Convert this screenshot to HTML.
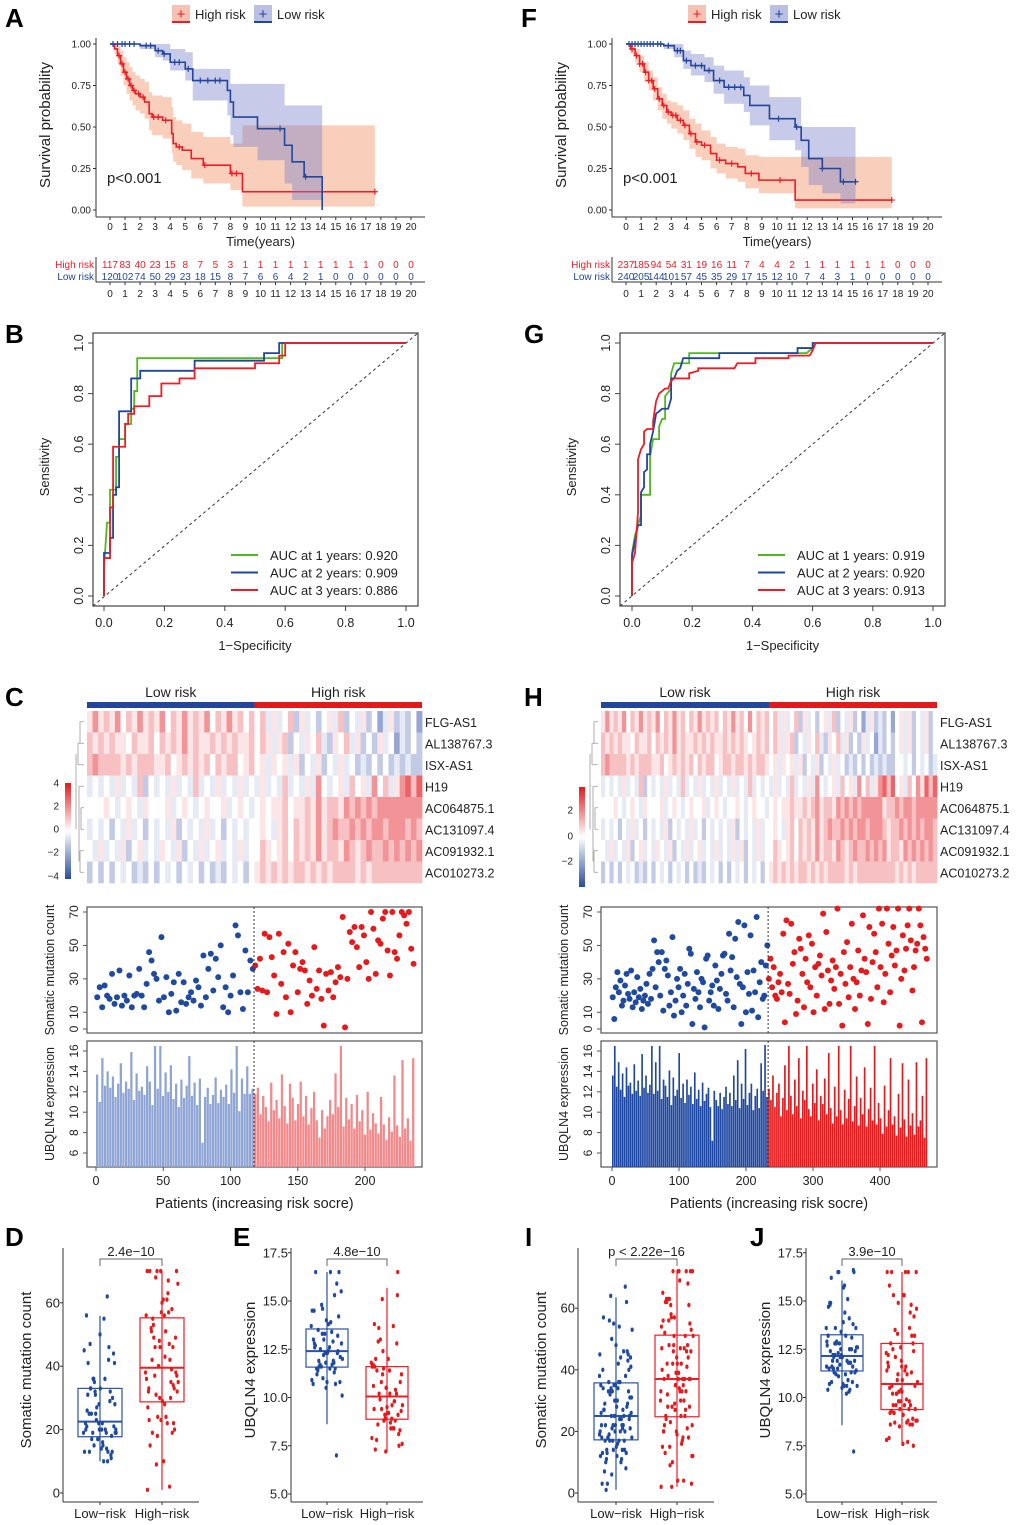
<!DOCTYPE html>
<html><head><meta charset="utf-8"><style>
html,body{margin:0;padding:0;background:#fff;}
svg{display:block;font-family:"Liberation Sans",Arial,sans-serif;}
</style></head><body>
<svg id="fig" width="1020" height="1525" viewBox="0 0 1020 1525" xmlns="http://www.w3.org/2000/svg"></svg>
<script>
// ---------- DATA ----------
const kmYears=[0,1,2,3,4,5,6,7,8,9,10,11,12,13,14,15,16,17,18,19,20];
const kmTicks=["1.00","0.75","0.50","0.25","0.00"];
// Panel A
const aHighT=[0,0.3,0.5,0.7,0.9,1.1,1.3,1.5,1.7,2.0,2.3,2.6,2.8,3.5,4.1,4.2,4.4,4.8,5.4,6.2,8.0,8.8];
const aHighS=[1,0.97,0.93,0.88,0.83,0.79,0.75,0.72,0.70,0.68,0.65,0.58,0.56,0.54,0.46,0.40,0.38,0.36,0.31,0.27,0.22,0.11];
const aHighHi=[1,1,0.99,0.96,0.92,0.89,0.86,0.83,0.81,0.79,0.77,0.71,0.69,0.68,0.62,0.56,0.54,0.52,0.47,0.44,0.40,0.51];
const aHighLo=[1,0.94,0.88,0.81,0.75,0.70,0.66,0.63,0.60,0.58,0.55,0.48,0.45,0.43,0.34,0.29,0.27,0.24,0.19,0.16,0.12,0.02];
const aHighEnd=17.6;
const aHighCens=[0.6,0.8,1.0,1.2,1.4,1.6,1.9,2.2,2.9,3.2,3.7,4.6,6.3,8.1,8.4,17.6];
const aLowT=[0,2.0,3.0,3.5,4.0,5.0,5.5,7.8,8.0,8.2,9.8,11.6,12.1,12.9,14.1];
const aLowS=[1,0.99,0.96,0.94,0.89,0.85,0.78,0.72,0.65,0.56,0.49,0.39,0.29,0.20,0];
const aLowHi=[1,1,1,1,0.97,0.95,0.85,0.85,0.76,0.76,0.76,0.63,0.63,0.63,0.63];
const aLowLo=[1,0.97,0.92,0.90,0.84,0.78,0.66,0.57,0.45,0.38,0.30,0.16,0.06,0.06,0];
const aLowEnd=14.1;
const aLowCens=[0.2,0.5,0.8,1.0,1.3,1.6,2.4,2.7,3.2,3.6,4.3,4.6,5.2,6.0,6.5,7.0,7.3,11.3,13.0];
const aRiskHigh=[117,83,40,23,15,8,7,5,3,1,1,1,1,1,1,1,1,1,0,0,0];
const aRiskLow=[120,102,74,50,29,23,18,15,8,7,6,6,4,2,1,0,0,0,0,0,0];
// Panel F
const fHighT=[0,0.3,0.6,0.9,1.2,1.5,1.8,2.1,2.4,2.7,3.0,3.4,3.8,4.2,4.6,5.0,5.6,6.0,6.6,7.4,7.9,8.8,11.2];
const fHighS=[1,0.97,0.93,0.88,0.83,0.78,0.73,0.67,0.63,0.59,0.57,0.54,0.51,0.46,0.41,0.39,0.34,0.30,0.28,0.26,0.22,0.18,0.06];
const fHighHi=[1,1,0.97,0.93,0.89,0.84,0.80,0.74,0.70,0.66,0.65,0.63,0.60,0.55,0.52,0.48,0.44,0.40,0.38,0.37,0.33,0.32,0.32];
const fHighLo=[1,0.94,0.89,0.83,0.77,0.72,0.66,0.60,0.55,0.52,0.49,0.46,0.42,0.37,0.32,0.30,0.25,0.22,0.19,0.17,0.13,0.10,0.01];
const fHighEnd=17.6;
const fHighCens=[0.4,0.7,0.9,1.1,1.3,1.5,1.7,1.9,2.2,2.5,2.8,3.1,3.3,3.6,3.9,4.3,4.7,5.2,6.2,7.0,8.3,10.2,17.6];
const fLowT=[0,2.5,3.2,3.8,4.3,5.2,5.8,6.5,7.8,8.2,9.5,11.2,11.6,12.1,13.0,14.2];
const fLowS=[1,0.99,0.96,0.90,0.87,0.84,0.78,0.74,0.69,0.63,0.55,0.50,0.42,0.31,0.25,0.17];
const fLowHi=[1,1,1,0.96,0.94,0.92,0.87,0.84,0.80,0.75,0.68,0.68,0.50,0.50,0.50,0.50];
const fLowLo=[1,0.97,0.92,0.85,0.81,0.77,0.70,0.64,0.59,0.51,0.42,0.36,0.26,0.15,0.10,0.04];
const fLowEnd=15.2;
const fLowCens=[0.2,0.4,0.6,0.8,1.0,1.2,1.4,1.6,1.8,2.1,2.3,2.8,3.4,3.6,4.0,4.6,5.0,5.5,6.2,6.8,7.2,7.6,10.1,11.3,13.0,14.4,15.2];
const fRiskHigh=[237,185,94,54,31,19,16,11,7,4,4,2,1,1,1,1,1,1,0,0,0];
const fRiskLow=[240,205,144,101,57,45,35,29,17,15,12,10,7,4,3,1,0,0,0,0,0];
// ROC
const rocTicks=[0,0.2,0.4,0.6,0.8,1.0];
const bGreenX=[0,0,0.01,0.02,0.02,0.04,0.04,0.05,0.05,0.07,0.07,0.09,0.09,0.10,0.10,0.11,0.11,0.59,0.59,1];
const bGreenY=[0,0.11,0.29,0.29,0.42,0.42,0.55,0.55,0.62,0.62,0.68,0.68,0.74,0.74,0.81,0.81,0.94,0.94,1,1];
const bBlueX=[0,0,0.02,0.02,0.03,0.03,0.04,0.04,0.05,0.05,0.09,0.09,0.12,0.12,0.30,0.30,0.53,0.53,0.58,0.58,1];
const bBlueY=[0,0.17,0.17,0.23,0.23,0.40,0.40,0.43,0.43,0.73,0.73,0.86,0.86,0.89,0.89,0.93,0.93,0.96,0.96,1,1];
const bRedX=[0,0,0.02,0.02,0.03,0.03,0.07,0.07,0.08,0.08,0.10,0.10,0.15,0.15,0.19,0.19,0.25,0.25,0.30,0.30,0.50,0.50,0.58,0.58,0.60,0.60,1];
const bRedY=[0,0.15,0.15,0.35,0.35,0.59,0.59,0.68,0.68,0.72,0.72,0.75,0.75,0.79,0.79,0.84,0.84,0.86,0.86,0.90,0.90,0.92,0.92,0.95,0.95,1,1];
const bAuc=["AUC at 1 years: 0.920","AUC at 2 years: 0.909","AUC at 3 years: 0.886"];
const gGreenX=[0,0,0.01,0.02,0.03,0.03,0.06,0.06,0.07,0.09,0.09,0.10,0.11,0.11,0.13,0.13,0.14,0.19,0.19,0.58,0.60,0.61,1];
const gGreenY=[0,0.17,0.24,0.28,0.32,0.40,0.40,0.55,0.62,0.62,0.67,0.70,0.70,0.79,0.82,0.88,0.92,0.92,0.96,0.96,0.98,1,1];
const gBlueX=[0,0,0.01,0.02,0.03,0.03,0.04,0.04,0.05,0.05,0.06,0.06,0.07,0.08,0.10,0.12,0.13,0.13,0.14,0.15,0.16,0.17,0.29,0.29,0.55,0.55,0.60,0.60,1];
const gBlueY=[0,0.16,0.22,0.28,0.28,0.41,0.43,0.49,0.50,0.56,0.56,0.60,0.65,0.72,0.74,0.74,0.78,0.86,0.86,0.89,0.90,0.94,0.94,0.96,0.96,0.98,0.98,1,1];
const gRedX=[0,0,0.01,0.02,0.02,0.03,0.04,0.04,0.05,0.07,0.07,0.08,0.09,0.10,0.11,0.12,0.13,0.14,0.19,0.19,0.22,0.22,0.34,0.35,0.41,0.41,0.52,0.52,0.59,0.60,0.61,1];
const gRedY=[0,0.13,0.17,0.33,0.54,0.58,0.60,0.65,0.66,0.66,0.69,0.77,0.80,0.81,0.82,0.82,0.85,0.86,0.86,0.88,0.89,0.90,0.90,0.92,0.92,0.94,0.94,0.95,0.95,0.97,1,1];
const gAuc=["AUC at 1 years: 0.919","AUC at 2 years: 0.920","AUC at 3 years: 0.913"];
// Heatmaps (digits 0..8, 4 = 0)
const genes=["FLG-AS1","AL138767.3","ISX-AS1","H19","AC064875.1","AC131097.4","AC091932.1","AC010273.2"];
const heatC=[
"575657465756574657565746575646463534625342453624352413523241",
"656565546556465657565565656556465356243546325463524253413242",
"676666565666556456565646566456453545352435243534232424232322",
"343435343624343534363435343534353436343537434536453746357868",
"444543454354445345434544534543454556455657566576767677777777",
"343424353424343524343534243434454356465657567667676776777676",
"435343524534354352435345343534465456465657566576567667676767",
"242424342324243424342423243424565656566565656666565666666666"];
const heatH=[
"57565746575657465756465756564657564746564635346253424536243524135232414535243524",
"65656554655646565756556565655656565456564653562435463254635242534132424535243524",
"67666656566655645656564656645665665656654535453524352435342324242323224434243423",
"34343534362434353436343534353435343634343534363435374345364537463578684536475868",
"44454345435444534543454453454344543454434545565565675665767676777775667677677777",
"34342435342434352434353424343435243435344543564656575676676767767776566767676776",
"43534352453435435243534534353435352435344654564656575665765676676767566576767676",
"24242434232424342434242324342424342434245656565665656566665656666666665656566666"];
// Scatter (somatic mutation count)
const cMutLow=[19,25,13,26,20,18,33,15,19,35,14,20,17,32,13,20,21,36,20,13,27,46,41,33,30,17,55,19,31,10,21,28,11,33,16,28,15,19,22,17,29,25,14,44,19,36,45,23,42,31,50,13,25,10,20,32,62,56,22,12,47,22,41,36];
const cMutHigh=[38,24,42,23,57,22,55,43,32,9,57,27,46,19,51,10,38,46,22,36,40,35,15,29,20,49,24,35,18,2,33,23,34,19,28,37,31,67,1,30,58,52,61,49,37,61,56,40,30,70,60,33,53,51,66,70,47,32,70,46,42,56,70,68,63,70,48,39];
const hMutLow=[19,6,25,34,22,29,14,17,26,33,21,18,35,13,22,16,31,19,24,12,17,20,27,15,33,18,36,53,25,46,40,20,46,11,36,41,32,14,22,55,8,17,30,25,36,10,20,33,14,27,48,45,3,24,18,34,22,13,30,28,1,42,44,17,22,26,14,38,29,12,24,33,44,45,21,17,57,35,43,13,54,31,64,27,3,25,62,10,34,21,56,11,35,22,67,7,28,40,18,20,38,50];
const hMutHigh=[30,42,25,37,20,18,28,33,22,57,4,65,27,21,63,39,46,9,17,54,48,33,13,42,28,56,25,51,10,37,20,39,44,32,69,12,58,35,15,29,41,24,37,72,15,33,2,46,27,52,19,37,63,30,12,28,47,20,35,68,42,34,3,61,18,40,57,46,25,72,37,63,16,33,72,51,22,44,61,38,47,72,2,30,56,35,48,62,72,53,23,37,47,51,72,62,4,55,48,42];
// UBQLN4 expression
const cExpLow=[13.7,11,15.3,12.6,14,12.4,13.5,11.5,12.8,14.8,11.9,13,12.3,15.9,11.2,13.8,12.1,12.5,11.7,14.5,13,10.7,16.5,12.3,16.5,11.6,13.9,12,14.6,11.3,12.8,10.5,13.2,11.4,12.6,15.5,11.6,12.9,10.7,13.3,7,11.5,12.4,10.8,11.7,13.4,10.9,12.2,11.5,12.7,10.8,14.2,11.9,16.5,10.1,13.3,11.8,14.5,11.8,12.3];
const cExpHigh=[11.8,12.4,9.8,11.6,10.5,9.1,12.9,10.2,11.2,9.4,13.7,10.6,8.9,12.8,11.4,9.2,10.8,13,9.6,11.6,8.8,10.4,12,9.2,7.5,10.2,8.4,9.6,11.2,9.8,13.8,10.5,16.5,8.6,11.4,9.3,10.8,8.4,11.7,9.1,10.2,7.8,12,8.3,9.9,8.9,7.9,11.5,8.8,7.3,9.5,8.1,13.6,8.7,7.6,15.1,8.4,9.4,7.2,15.3];
const hExpLow=[13.6,16.5,12.5,14.9,12.2,13.8,11.5,14.4,12.6,12.9,11.8,14.7,12.1,13.1,11.6,15.7,12.4,13.6,11.9,12.7,16.5,11.8,14.9,12.1,16.5,11.3,13.2,12.6,11.5,14.1,10.7,13.4,11.6,12.2,15.8,11.4,12.8,10.9,13.2,11.7,12.5,10.8,13.9,11.3,12.2,10.6,12.9,11.1,11.8,12.4,10.5,7.2,12.1,11.2,10.6,11.9,10.3,11.5,12.5,10.8,11.9,10.6,13.6,11.2,15.1,10.4,12.8,11.3,16.2,10.7,11.9,12.8,10.2,11.6,12.3,10.4,14.8,12.1,16.6,11.5];
const hExpHigh=[12.3,11.2,13.6,10.5,11.9,12.8,9.6,11.4,14.6,10.2,16.5,11.6,9.8,13.2,10.6,15.3,9.4,12.1,11.2,16.5,10.3,9.6,12.8,10.9,14.2,9.2,11.6,10.8,13.3,9.8,15.8,10.4,8.9,12.5,9.6,16.5,10.2,8.8,12.2,9.4,11.3,16.5,9.1,10.6,13.5,8.7,11.4,9.8,14.4,8.6,10.3,12.4,9.2,16.5,8.8,10.9,9.4,7.9,12.6,8.6,10.2,15.3,8.8,9.6,7.7,11.8,8.5,14.8,9.3,7.6,13.2,8.7,9.9,7.8,14.9,8.6,9.2,11.6,7.5,15.3];
const mutTicks=[0,10,30,50,70];
const expTicks=[6,8,10,12,14,16];
const boxMutTicks=[0,20,40,60];
const boxExpTicks=[5,7.5,10,12.5,15,17.5];

// ---------- HELPERS ----------
const NS='http://www.w3.org/2000/svg';
const svg=document.getElementById('fig');
const RED='#ee1c25',BLUE='#22469c';
function el(tag,a,p){const e=document.createElementNS(NS,tag);for(const k in a)e.setAttribute(k,a[k]);(p||svg).appendChild(e);return e;}
function nm(e,n){


return e;}
function tx(s,x,y,a,p){const e=el('text',Object.assign({x:x,y:y,'font-size':12,fill:'#222'},a||{}),p);e.textContent=s;return e;}
function rtx(s,x,y,a,p){const e=tx(s,0,0,Object.assign({'text-anchor':'middle',transform:'translate('+x+','+y+') rotate(-90)'},a||{}),p);return e;}

// panel letters
[["A",5,27],["B",5,343],["C",5,706],["D",5,1246],["E",233,1246],["F",521,27],["G",524,343],["H",524,706],["I",525,1246],["J",750,1246]].forEach(function(p){
const t=tx(p[0],p[1],p[2],{'font-size':26,'font-weight':'bold',fill:'#000'});
nm(t,'panel-label-'+p[0].toLowerCase());});

// ---------- KM ----------
function km(c){
const g=el('g',{});nm(g,c.id+'-km-plot');
const X=t=>c.x0+t*c.sx, Y=s=>210-s*166;
[["High risk",RED,'#f4b3a0',0],["Low risk",BLUE,'#aab0dc',1]].forEach(function(L){
const lx=c.legX+L[3]*82;
const r=el('rect',{x:lx,y:5,width:18,height:18,fill:L[2],opacity:0.8},g);nm(r,'legend-key-'+(L[3]?'low':'high'));
el('line',{x1:lx,x2:lx+18,y1:22,y2:22,stroke:L[1],'stroke-width':2},g);
tx('+',lx+9,19,{'text-anchor':'middle',fill:L[1],'font-size':15},g);
const t=tx(L[0],lx+23,19,{'font-size':13},g);nm(t,'legend-label-'+(L[3]?'low':'high'));});
function series(T,S,Hi,Lo,end,cens,col,fill,name){
let up='',dn=[];
for(let i=0;i<T.length;i++){const t2=(i<T.length-1?T[i+1]:end);
up+=(i?'L':'M')+X(T[i])+','+Y(Hi[i])+'L'+X(t2)+','+Y(Hi[i]);
dn.unshift('L'+X(t2)+','+Y(Lo[i])+'L'+X(T[i])+','+Y(Lo[i]));}
const b=el('path',{d:up+dn.join('')+'Z',fill:fill,opacity:0.42},g);nm(b,name+'-confidence-band');
let d='M'+X(T[0])+','+Y(S[0]);
for(let i=1;i<T.length;i++)d+='H'+X(T[i])+'V'+Y(S[i]);
d+='H'+X(end);
const l=el('path',{d:d,fill:'none',stroke:col,'stroke-width':1.6},g);nm(l,name+'-survival-curve');
cens.forEach(function(t){let s=S[0];for(let i=0;i<T.length;i++)if(T[i]<=t)s=S[i];
const m=el('path',{d:'M'+(X(t)-3)+','+Y(s)+'h6M'+X(t)+','+(Y(s)-3)+'v6',stroke:col,'stroke-width':1.2},g);nm(m,name+'-censor-mark');});}
series(c.hT,c.hS,c.hHi,c.hLo,c.hEnd,c.hC,RED,'#f08a5d','high-risk');
series(c.lT,c.lS,c.lHi,c.lLo,c.lEnd,c.lC,BLUE,'#7a80c8','low-risk');
const ax=c.x0-14;
el('line',{x1:ax,x2:ax,y1:38,y2:217,stroke:'#333'},g);
el('line',{x1:ax,x2:c.x0+20*c.sx+14,y1:217,y2:217,stroke:'#333'},g);
kmTicks.forEach(function(s,i){const v=1-i*0.25;el('line',{x1:ax-3,x2:ax,y1:Y(v),y2:Y(v),stroke:'#333'},g);
const t=tx(s,ax-5,Y(v)+3.5,{'text-anchor':'end','font-size':10},g);nm(t,'y-tick-label');});
kmYears.forEach(function(yr){el('line',{x1:X(yr),x2:X(yr),y1:217,y2:220,stroke:'#333'},g);
const t=tx(String(yr),X(yr),230,{'text-anchor':'middle','font-size':10},g);nm(t,'x-tick-label');
el('line',{x1:X(yr),x2:X(yr),y1:282,y2:285,stroke:'#333'},g);
const t2=tx(String(yr),X(yr),297,{'text-anchor':'middle','font-size':10},g);nm(t2,'risk-table-x-tick');
const h=tx(String(c.rH[yr]),X(yr),268,{'text-anchor':'middle','font-size':10,fill:RED},g);nm(h,'risk-count-high');
const lw=tx(String(c.rL[yr]),X(yr),280,{'text-anchor':'middle','font-size':10,fill:BLUE},g);nm(lw,'risk-count-low');});
el('line',{x1:ax,x2:ax,y1:257,y2:282,stroke:'#333'},g);
el('line',{x1:ax,x2:c.x0+20*c.sx+14,y1:282,y2:282,stroke:'#333'},g);
let t=tx('High risk',ax-2,268,{'text-anchor':'end','font-size':10,fill:RED},g);nm(t,'risk-table-high-label');
t=tx('Low risk',ax-2,280,{'text-anchor':'end','font-size':10,fill:BLUE},g);nm(t,'risk-table-low-label');
t=tx('Time(years)',c.x0+10*c.sx,246,{'text-anchor':'middle','font-size':13},g);nm(t,'x-axis-title');
t=rtx('Survival probability',ax-46,125,{'font-size':15},g);nm(t,'y-axis-title');
t=tx('p<0.001',c.x0-3,183,{'font-size':15},g);nm(t,'p-value');
}
km({id:'a',x0:110,sx:15.05,legX:172,hT:aHighT,hS:aHighS,hHi:aHighHi,hLo:aHighLo,hEnd:aHighEnd,hC:aHighCens,lT:aLowT,lS:aLowS,lHi:aLowHi,lLo:aLowLo,lEnd:aLowEnd,lC:aLowCens,rH:aRiskHigh,rL:aRiskLow});
km({id:'f',x0:626,sx:15.1,legX:688,hT:fHighT,hS:fHighS,hHi:fHighHi,hLo:fHighLo,hEnd:fHighEnd,hC:fHighCens,lT:fLowT,lS:fLowS,lHi:fLowHi,lLo:fLowLo,lEnd:fLowEnd,lC:fLowCens,rH:fRiskHigh,rL:fRiskLow});

// ---------- ROC ----------
function roc(c){
const g=el('g',{});nm(g,c.id+'-roc-plot');
const X=v=>c.x0+v*c.w, Y=v=>596-v*253;
const box=el('rect',{x:c.bx,y:333,width:c.bw,height:273,fill:'none',stroke:'#444','stroke-width':1.2},g);nm(box,'plot-frame');
const dl=el('line',{x1:c.bx,y1:606,x2:c.bx+c.bw,y2:333,stroke:'#333','stroke-dasharray':'3,3'},g);nm(dl,'reference-diagonal');
rocTicks.forEach(function(v){el('line',{x1:X(v),x2:X(v),y1:606,y2:611,stroke:'#444'},g);
let t=tx(v.toFixed(1),X(v),627,{'text-anchor':'middle','font-size':12.5},g);nm(t,'x-tick-label');
el('line',{x1:c.bx-5,x2:c.bx,y1:Y(v),y2:Y(v),stroke:'#444'},g);
t=rtx(v.toFixed(1),c.bx-10,Y(v),{'font-size':12.5},g);nm(t,'y-tick-label');});
let t=tx('1\u2212Specificity',c.x0+0.5*c.w,650,{'text-anchor':'middle','font-size':13},g);nm(t,'x-axis-title');
t=rtx('Sensitivity',c.bx-44,467,{'font-size':13},g);nm(t,'y-axis-title');
const cols=['#4fb81f','#1f46a0','#ee1c25'];
c.curves.forEach(function(cv,k){let d='';cv[0].forEach(function(x,i){d+=(i?'L':'M')+X(x)+','+Y(cv[1][i]);});
const p=el('path',{d:d,fill:'none',stroke:cols[k],'stroke-width':1.8},g);nm(p,'roc-curve-'+(k+1)+'-year');
const ly=555+k*17.5;
el('line',{x1:c.lx,x2:c.lx+27,y1:ly,y2:ly,stroke:cols[k],'stroke-width':2},g);
const lt=tx(c.auc[k],c.lx+39,ly+5,{'font-size':13},g);nm(lt,'legend-entry-'+(k+1)+'-year');});
}
roc({id:'b',bx:93,bw:325,x0:104,w:302,lx:231,auc:bAuc,curves:[[bGreenX,bGreenY],[bBlueX,bBlueY],[bRedX,bRedY]]});
roc({id:'g',bx:620,bw:325,x0:632,w:301,lx:758,auc:gAuc,curves:[[gGreenX,gGreenY],[gBlueX,gBlueY],[gRedX,gRedY]]});

// ---------- HEATMAP + SCATTER + BARS ----------
function col(d){const v=(d-4)/4;
const lerp=(a,b,t)=>Math.round(a+(b-a)*t);
const t=Math.min(1,Math.pow(Math.abs(v),1.3)*0.72);
if(v>=0)return 'rgb('+lerp(255,228,t)+','+lerp(255,40,t)+','+lerp(255,45,t)+')';
return 'rgb('+lerp(255,45,t)+','+lerp(255,75,t)+','+lerp(255,170,t)+')';}
function risk(c){
const g=el('g',{});nm(g,c.id+'-risk-panel');
const hx0=c.hx0,hx1=c.hx1,mid=(hx0+hx1)/2;
let r=el('rect',{x:hx0,y:702,width:mid-hx0,height:6,fill:BLUE},g);nm(r,'low-risk-annotation-bar');
r=el('rect',{x:mid,y:702,width:hx1-mid,height:6,fill:'#e31a1c'},g);nm(r,'high-risk-annotation-bar');
let t=tx('Low risk',(hx0+mid)/2,697,{'text-anchor':'middle','font-size':14},g);nm(t,'low-risk-label');
t=tx('High risk',(mid+hx1)/2,697,{'text-anchor':'middle','font-size':14},g);nm(t,'high-risk-label');
const rh=(883-711)/8;
c.heat.forEach(function(row,ri){const n=row.length,cw=(hx1-hx0)/n;
for(let j=0;j<n;j++){const cell=el('rect',{x:hx0+j*cw,y:711+ri*rh,width:cw+0.4,height:rh+0.3,fill:col(+row[j])},g);

}
const gl=tx(genes[ri],hx1+3,711+ri*rh+rh/2+5,{'font-size':12.5},g);nm(gl,'gene-label');});
const dx=hx0-3;let dd='M'+dx+','+(711+rh*0.5)+'h-4M'+dx+','+(711+rh*1.5)+'h-6M'+dx+','+(711+rh*2.5)+'h-6M'+(dx-4)+','+(711+rh*0.5)+'V'+(711+rh*1.5)+'M'+(dx-6)+','+(711+rh*1.5)+'V'+(711+rh*2.5)+'M'+dx+','+(711+rh*3.5)+'h-5M'+dx+','+(711+rh*4.5)+'h-3M'+dx+','+(711+rh*5.5)+'h-3M'+(dx-3)+','+(711+rh*4.5)+'V'+(711+rh*5.5)+'M'+dx+','+(711+rh*6.5)+'h-4M'+dx+','+(711+rh*7.5)+'h-4M'+(dx-4)+','+(711+rh*6.5)+'V'+(711+rh*7.5)+'M'+(dx-5)+','+(711+rh*3.5)+'V'+(711+rh*7)+'M'+(dx-8)+','+(711+rh*2)+'V'+(711+rh*5.5);
const den=el('path',{d:dd,fill:'none',stroke:'#999','stroke-width':0.8},g);nm(den,'row-dendrogram');
const defs=el('defs',{},g);const lg=el('linearGradient',{id:c.id+'cb',x1:0,y1:0,x2:0,y2:1},defs);
[[0,'#e31a1c'],[0.5,'#ffffff'],[1,'#2a4ba3']].forEach(s=>el('stop',{offset:s[0],'stop-color':s[1]},lg));
r=el('rect',{x:c.cbx,y:c.cby0,width:6,height:c.cby1-c.cby0,fill:'url(#'+c.id+'cb)'},g);nm(r,'color-scale-bar');
c.cbLabels.forEach(function(L){const tt=tx(L[0],c.cbx-6,L[1]+3.5,{'text-anchor':'end','font-size':10},g);nm(tt,'color-scale-label');});
const PX=p=>c.px0+p*c.psx, SY=v=>1029-v*(117/70), BY=v=>1153-(v-6)*10.2;
r=el('rect',{x:hx0,y:907,width:hx1-hx0,height:126,fill:'none',stroke:'#555','stroke-width':1.2},g);nm(r,'scatter-frame');
r=el('rect',{x:hx0,y:1041,width:hx1-hx0,height:126,fill:'none',stroke:'#555','stroke-width':1.2},g);nm(r,'bar-frame');
mutTicks.forEach(function(v){el('line',{x1:hx0-4,x2:hx0,y1:SY(v),y2:SY(v),stroke:'#555'},g);
const tt=rtx(String(v),hx0-9,SY(v),{'font-size':12},g);nm(tt,'mutation-y-tick');});
expTicks.forEach(function(v){el('line',{x1:hx0-4,x2:hx0,y1:BY(v),y2:BY(v),stroke:'#555'},g);
const tt=rtx(String(v),hx0-9,BY(v),{'font-size':12},g);nm(tt,'expression-y-tick');});
t=rtx('Somatic mutation count',hx0-33,970,{'font-size':12.5},g);nm(t,'mutation-y-title');
t=rtx('UBQLN4 expression',hx0-33,1104,{'font-size':12.5},g);nm(t,'expression-y-title');
function place(arr,start,count){return arr.map((v,i)=>[start+(i+0.5)*count/arr.length,v]);}
place(c.mLow,0,c.nLow).forEach(function(p){const d=el('circle',{cx:PX(p[0]),cy:SY(p[1]),r:3,fill:'#1f4aa0'},g);

});
place(c.mHigh,c.nLow,c.N-c.nLow).forEach(function(p){const d=el('circle',{cx:PX(p[0]),cy:SY(p[1]),r:3,fill:'#e41a1c'},g);

});
function bars(arr,start,count,fill,name){const bw=count/arr.length*c.psx;
arr.forEach(function(v,i){const x=PX(start+i*count/arr.length);
const b=el('rect',{x:x,y:BY(v),width:bw*0.85,height:1167-BY(v),fill:fill},g);

});}
bars(c.eLow,0,c.nLow,c.lowFill,'expression-bar-low');
bars(c.eHigh,c.nLow,c.N-c.nLow,c.highFill,'expression-bar-high');
const sx=PX(c.nLow);
let dl=el('line',{x1:sx,x2:sx,y1:907,y2:1033,stroke:'#333','stroke-dasharray':'2,2'},g);nm(dl,'risk-cutoff-line');
dl=el('line',{x1:sx,x2:sx,y1:1041,y2:1167,stroke:'#333','stroke-dasharray':'2,2'},g);nm(dl,'risk-cutoff-line');
c.xTicks.forEach(function(v){el('line',{x1:PX(v),x2:PX(v),y1:1167,y2:1171,stroke:'#555'},g);
const tt=tx(String(v),PX(v),1185,{'text-anchor':'middle','font-size':12.5},g);nm(tt,'patient-x-tick');});
t=tx('Patients (increasing risk socre)',(hx0+hx1)/2,1208,{'text-anchor':'middle','font-size':14.5},g);nm(t,'patient-x-title');
}
risk({id:'c',hx0:87,hx1:422,heat:heatC,cbx:65,cby0:783,cby1:879,cbLabels:[["4",783],["2",806],["0",829],["\u22122",852],["\u22124",876]],
px0:96,psx:1.345,N:237,nLow:117.5,mLow:cMutLow,mHigh:cMutHigh,eLow:cExpLow,eHigh:cExpHigh,lowFill:'#8ea4d4',highFill:'#f2898b',xTicks:[0,50,100,150,200]});
risk({id:'h',hx0:601,hx1:937,heat:heatH,cbx:579,cby0:787,cby1:887,cbLabels:[["2",810],["0",836],["\u22122",861]],
px0:612,psx:0.67,N:471,nLow:233,mLow:hMutLow,mHigh:hMutHigh,eLow:hExpLow,eHigh:hExpHigh,lowFill:'#1f48a2',highFill:'#e41a1c',xTicks:[0,100,200,300,400]});

// ---------- BOX PLOTS ----------
function q(a,p){const s=a.slice().sort((x,y)=>x-y),i=(s.length-1)*p,l=Math.floor(i);return s[l]+(s[Math.min(l+1,s.length-1)]-s[l])*(i-l);}
function boxp(c){
const g=el('g',{});nm(g,c.id+'-boxplot');
const Y=v=>c.y0-(v-c.vmin)*c.k;
el('line',{x1:c.ax,x2:c.ax,y1:1248,y2:1502,stroke:'#333'},g);
el('line',{x1:c.ax,x2:c.axEnd,y1:1502,y2:1502,stroke:'#333'},g);
c.ticks.forEach(function(v){el('line',{x1:c.ax-3,x2:c.ax,y1:Y(v),y2:Y(v),stroke:'#333'},g);
const t=tx(c.dec?v.toFixed(1):String(v),c.ax-3,Y(v)+4.5,{'text-anchor':'end','font-size':13},g);nm(t,'y-tick-label');});
[[c.low,c.lx,'#2a52a8','Low\u2212risk','low'],[c.high,c.hx,'#ee1c25','High\u2212risk','high']].forEach(function(G){
const a=G[0],x=G[1],q1=q(a,0.25),md=q(a,0.5),q3=q(a,0.75),iq=q3-q1;
const lo=Math.max(Math.min(...a),q1-1.5*iq),hi=Math.min(Math.max(...a),q3+1.5*iq);
el('line',{x1:x,x2:x,y1:Y(hi),y2:Y(lo),stroke:G[2],'stroke-width':1.2},g);
const b=el('rect',{x:x-c.hw,y:Y(q3),width:2*c.hw,height:Y(q1)-Y(q3),fill:'#fff','fill-opacity':0,stroke:G[2],'stroke-width':1.2},g);nm(b,G[4]+'-risk-box');
const m=el('line',{x1:x-c.hw,x2:x+c.hw,y1:Y(md),y2:Y(md),stroke:G[2],'stroke-width':2},g);nm(m,G[4]+'-risk-median');
a.forEach(function(v,i){const j=((i*37)%100)/100-0.5;
const d=el('ellipse',{cx:x+j*c.hw*1.5,cy:Y(v),rx:1.6,ry:2.2,fill:G[4]=='low'?'#1f4aa0':'#e41a1c'},g);

});
el('line',{x1:x,x2:x,y1:1502,y2:1505,stroke:'#333'},g);
const t=tx(G[3],x,1518,{'text-anchor':'middle','font-size':13},g);nm(t,'x-tick-label');});
el('path',{d:'M'+c.lx+','+1266+'V1259H'+c.hx+'V1266',fill:'none',stroke:'#666'},g);
let t=tx(c.p,(c.lx+c.hx)/2,1256,{'text-anchor':'middle','font-size':13},g);nm(t,'p-value');
t=rtx(c.title,c.tx,1370,{'font-size':15},g);nm(t,'y-axis-title');
}
boxp({id:'d',ax:63,axEnd:199,lx:100,hx:162,hw:22,y0:1493,vmin:0,k:3.17,ticks:boxMutTicks,low:cMutLow,high:cMutHigh,p:'2.4e\u221210',title:'Somatic mutation count',tx:31});
boxp({id:'e',ax:291,axEnd:423,lx:327,hx:387,hw:21,y0:1494,vmin:5,k:19.3,ticks:boxExpTicks,dec:true,low:cExpLow,high:cExpHigh,p:'4.8e\u221210',title:'UBQLN4 expression',tx:255});
boxp({id:'i',ax:578,axEnd:714,lx:616,hx:677,hw:22,y0:1493,vmin:0,k:3.08,ticks:boxMutTicks,low:hMutLow,high:hMutHigh,p:'p < 2.22e\u221216',title:'Somatic mutation count',tx:546});
boxp({id:'j',ax:806,axEnd:937,lx:842,hx:902,hw:21,y0:1494,vmin:5,k:19.3,ticks:boxExpTicks,dec:true,low:hExpLow,high:hExpHigh,p:'3.9e\u221210',title:'UBQLN4 expression',tx:770});
</script>
</body></html>
